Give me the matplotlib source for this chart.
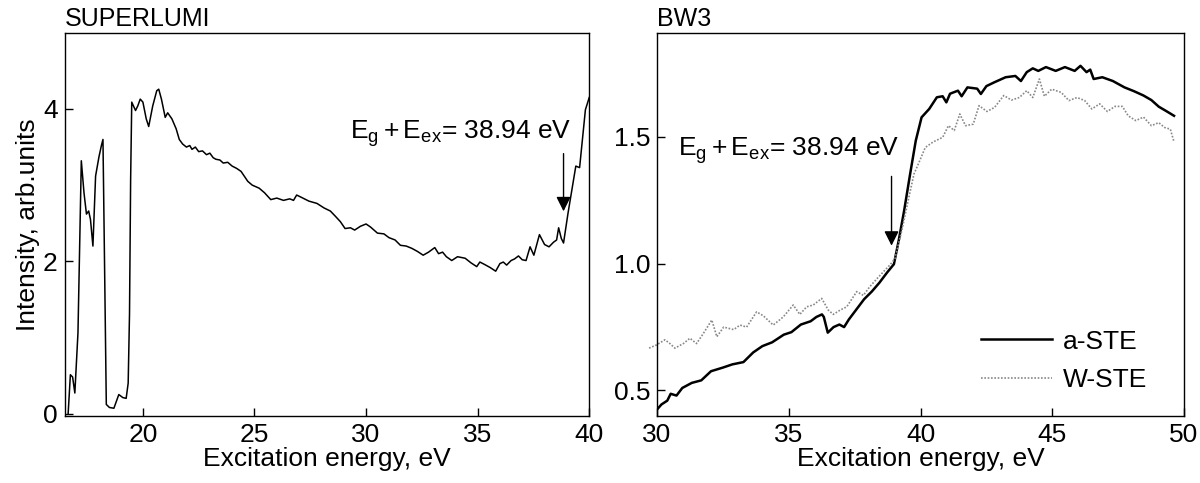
import matplotlib
matplotlib.use("Agg")
import matplotlib.pyplot as plt

plt.rcParams['font.family'] = ['Liberation Sans', 'DejaVu Sans']
plt.rcParams['mathtext.fontset'] = 'custom'
plt.rcParams['mathtext.rm'] = 'Liberation Sans'
plt.rcParams['mathtext.it'] = 'Liberation Sans:italic'

# SUPERLUMI spectrum
sl_energy = [16.65, 16.75, 16.85, 16.95, 17.09, 17.24, 17.36, 17.47, 17.57, 17.65, 17.76,
             17.88, 18.03, 18.14, 18.21, 18.29, 18.36, 18.5, 18.7, 18.92, 19.1, 19.25,
             19.34, 19.4, 19.45, 19.5, 19.67, 19.77, 19.88, 20.0, 20.15, 20.26, 20.44,
             20.62, 20.71, 20.83, 21.0, 21.11, 21.3, 21.49, 21.63, 21.78, 21.95, 22.1,
             22.2, 22.35, 22.5, 22.67, 22.85, 23.0, 23.15, 23.27, 23.45, 23.6, 23.8,
             24.0, 24.2, 24.4, 24.7, 24.9, 25.21, 25.45, 25.73, 26.0, 26.3, 26.58,
             26.75, 26.89, 27.1, 27.44, 27.8, 28.12, 28.4, 28.63, 28.85, 29.06, 29.3,
             29.49, 29.75, 30.0, 30.2, 30.51, 30.8, 31.03, 31.3, 31.54, 31.8, 32.05,
             32.3, 32.56, 32.8, 33.08, 33.25, 33.43, 33.6, 33.84, 34.1, 34.44, 34.7,
             34.96, 35.1, 35.3, 35.55, 35.81, 36.0, 36.15, 36.3, 36.5, 36.65, 36.83,
             37.0, 37.17, 37.35, 37.52, 37.77, 38.0, 38.2, 38.4, 38.54, 38.63, 38.75,
             38.85, 39.05, 39.4, 39.57, 39.83, 40.0]
sl_intensity = [0.0, 0.51, 0.48, 0.27, 1.06, 3.32, 2.9, 2.62, 2.66, 2.55, 2.2,
                3.12, 3.37, 3.52, 3.6, 1.76, 0.12, 0.08, 0.07, 0.25, 0.21, 0.2,
                0.4, 1.31, 3.07, 4.09, 3.98, 4.04, 4.13, 4.09, 3.87, 3.77, 4.04,
                4.24, 4.26, 4.13, 3.89, 3.95, 3.87, 3.74, 3.6, 3.54, 3.5, 3.52,
                3.47, 3.5, 3.44, 3.45, 3.4, 3.42, 3.36, 3.34, 3.33, 3.29, 3.3,
                3.25, 3.22, 3.18, 3.05, 3.0, 2.96, 2.9, 2.81, 2.83, 2.8, 2.82,
                2.8, 2.87, 2.84, 2.79, 2.76, 2.7, 2.66, 2.59, 2.52, 2.43, 2.44,
                2.41, 2.46, 2.49, 2.45, 2.37, 2.36, 2.31, 2.28, 2.21, 2.2, 2.17,
                2.13, 2.08, 2.12, 2.18, 2.1, 2.12, 2.06, 2.01, 2.06, 2.04, 1.98,
                1.93, 1.99, 1.96, 1.92, 1.87, 1.97, 1.99, 1.95, 2.01, 2.03, 2.07,
                2.02, 2.01, 2.19, 2.08, 2.35, 2.22, 2.19, 2.25, 2.28, 2.44, 2.3,
                2.24, 2.63, 3.25, 3.23, 3.99, 4.15]

# BW3 spectra
bw_a_energy = [30.0, 30.17, 30.39, 30.52, 30.74, 30.96, 31.32, 31.68, 32.05, 32.49, 32.86,
               33.28, 33.65, 34.0, 34.37, 34.81, 35.1, 35.46, 35.83, 36.05, 36.26, 36.33,
               36.48, 36.7, 36.92, 37.1, 37.28, 37.57, 37.86, 38.15, 38.44, 38.73, 38.99,
               39.17, 39.38, 39.6, 39.82, 40.04, 40.33, 40.62, 40.84, 40.98, 41.12, 41.42,
               41.56, 41.78, 42.15, 42.29, 42.5, 42.8, 43.23, 43.6, 43.81, 44.03, 44.26,
               44.47, 44.76, 45.13, 45.48, 45.85, 46.07, 46.3, 46.44, 46.57, 46.9, 47.3,
               47.74, 48.1, 48.46, 48.76, 49.04, 49.35, 49.62]
bw_a_intensity = [0.425, 0.445, 0.46, 0.487, 0.48, 0.51, 0.53, 0.54, 0.576, 0.59, 0.603,
                  0.612, 0.65, 0.675, 0.69, 0.72, 0.73, 0.76, 0.773, 0.79, 0.80, 0.79,
                  0.728, 0.75, 0.76, 0.75, 0.78, 0.82, 0.86, 0.89, 0.925, 0.965, 0.998,
                  1.09, 1.21, 1.35, 1.485, 1.577, 1.61, 1.656, 1.66, 1.636, 1.67, 1.682,
                  1.66, 1.695, 1.69, 1.669, 1.7, 1.715, 1.735, 1.74, 1.72, 1.755, 1.77,
                  1.76, 1.775, 1.76, 1.775, 1.76, 1.78, 1.755, 1.765, 1.728, 1.735, 1.72,
                  1.695, 1.68, 1.663, 1.645, 1.619, 1.6, 1.583]

bw_w_energy = [29.7, 29.99, 30.3, 30.49, 30.68, 31.0, 31.25, 31.5, 31.76, 32.08, 32.27,
               32.53, 32.91, 33.15, 33.4, 33.78, 34.03, 34.41, 34.79, 35.17, 35.42, 35.68,
               35.93, 36.25, 36.5, 36.69, 36.95, 37.2, 37.58, 37.83, 38.08, 38.34, 38.59,
               38.84, 39.03, 39.31, 39.53, 39.75, 39.97, 40.18, 40.48, 40.84, 41.06, 41.28,
               41.49, 41.71, 42.0, 42.22, 42.52, 42.81, 43.16, 43.45, 43.75, 44.03, 44.26,
               44.51, 44.7, 44.98, 45.34, 45.63, 45.94, 46.23, 46.5, 46.8, 47.09, 47.38,
               47.66, 47.88, 48.17, 48.46, 48.76, 49.04, 49.26, 49.48, 49.62]
bw_w_intensity = [0.667, 0.68, 0.70, 0.685, 0.667, 0.685, 0.706, 0.685, 0.725, 0.778, 0.712,
                  0.75, 0.74, 0.758, 0.75, 0.81, 0.795, 0.758, 0.79, 0.837, 0.80, 0.83,
                  0.837, 0.863, 0.817, 0.80, 0.817, 0.83, 0.89, 0.875, 0.91, 0.94, 0.968,
                  0.995, 1.02, 1.14, 1.248, 1.353, 1.406, 1.458, 1.48, 1.498, 1.544, 1.525,
                  1.59, 1.544, 1.55, 1.623, 1.6, 1.616, 1.663, 1.645, 1.655, 1.682, 1.655,
                  1.728, 1.66, 1.688, 1.675, 1.643, 1.655, 1.643, 1.61, 1.63, 1.6, 1.62,
                  1.62, 1.583, 1.564, 1.578, 1.544, 1.556, 1.537, 1.53, 1.48]

label_txt = r'$\mathregular{E_g + E_{ex}}$= 38.94 eV'
fs = 19

fig = plt.figure(figsize=(12, 4.83), dpi=100)
ax1 = fig.add_axes([0.054, 0.139, 0.437, 0.793])
ax2 = fig.add_axes([0.5475, 0.139, 0.4392, 0.793])

for ax in (ax1, ax2):
    ax.tick_params(direction='in', length=5.5, width=1, labelsize=fs, pad=5)
    for s in ax.spines.values():
        s.set_linewidth(1.0)
    ax.set_xlabel('Excitation energy, eV', fontsize=fs, labelpad=0)

# left panel
ax1.plot(sl_energy, sl_intensity, color='black', lw=1.1)
ax1.set_xlim(16.5, 40)
ax1.set_ylim(-0.03, 5.0)
ax1.set_xticks([20, 25, 30, 35, 40])
ax1.set_yticks([0, 2, 4])
ax1.set_ylabel('Intensity, arb.units', fontsize=fs, labelpad=2)
ax1.set_title('SUPERLUMI', loc='left', fontsize=18, pad=5)
ax1.annotate('', xy=(38.85, 2.62), xytext=(38.85, 3.45),
             arrowprops=dict(arrowstyle='-|>', mutation_scale=22, color='black', lw=1))
ax1.text(39.2, 3.68, label_txt, fontsize=fs, ha='right', va='center')

# right panel
ax2.plot(bw_a_energy, bw_a_intensity, color='black', lw=1.8, label='a-STE')
ax2.plot(bw_w_energy, bw_w_intensity, color='#888888', lw=1.2, ls=(0, (1, 1)),
         label='W-STE', clip_on=False)
ax2.set_xlim(30, 50)
ax2.set_ylim(0.4, 1.91)
ax2.set_xticks([30, 35, 40, 45, 50])
ax2.set_yticks([0.5, 1.0, 1.5])
ax2.set_title('BW3', loc='left', fontsize=18, pad=5)
ax2.annotate('', xy=(38.9, 1.06), xytext=(38.9, 1.355),
             arrowprops=dict(arrowstyle='-|>', mutation_scale=22, color='black', lw=1))
ax2.text(30.8, 1.445, label_txt, fontsize=fs, ha='left', va='center')
ax2.legend(loc='lower right', bbox_to_anchor=(0.975, 0.0), frameon=False, fontsize=fs,
           handlelength=2.7, handletextpad=0.4, labelspacing=0.55)

fig.savefig('out.png', dpi=100)
